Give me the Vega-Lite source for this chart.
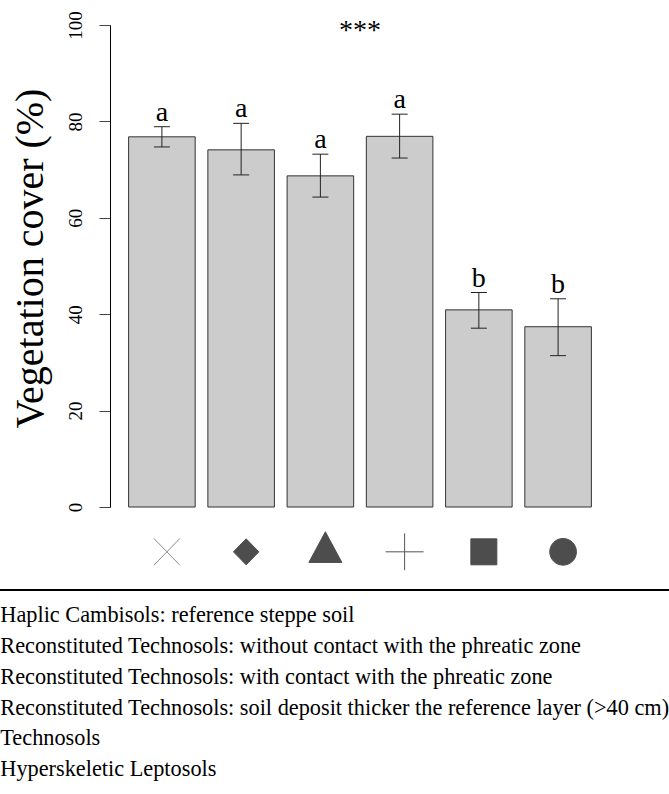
{
  "$schema": "https://vega.github.io/schema/vega-lite/v6.json",
  "autosize": {"type": "none"},
  "padding": {"left": 110, "top": 25, "right": 59, "bottom": 287},
  "width": 500,
  "height": 482,
  "background": "white",
  "config": {"view": {"stroke": null}, "font": "Liberation Serif", "legend": {"strokeWidth": 2}},
  "data": {
    "values": [
      {"soil": "Haplic Cambisols: reference steppe soil", "cover": 76.8, "lo": 74.7, "hi": 78.9, "letter": "a"},
      {"soil": "Reconstituted Technosols: without contact with the phreatic zone", "cover": 74.1, "lo": 68.9, "hi": 79.6, "letter": "a"},
      {"soil": "Reconstituted Technosols: with contact with the phreatic zone", "cover": 68.7, "lo": 64.3, "hi": 73.2, "letter": "a"},
      {"soil": "Reconstituted Technosols: soil deposit thicker the reference layer (>40 cm)", "cover": 76.9, "lo": 72.4, "hi": 81.5, "letter": "a"},
      {"soil": "Technosols", "cover": 40.9, "lo": 37.1, "hi": 44.5, "letter": "b"},
      {"soil": "Hyperskeletic Leptosols", "cover": 37.4, "lo": 31.4, "hi": 43.2, "letter": "b"}
    ]
  },
  "layer": [
    {
      "mark": {"type": "bar", "fill": "#cccccc", "stroke": "#333333", "strokeWidth": 1},
      "encoding": {
        "x": {"field": "soil", "type": "nominal", "sort": null, "axis": null, "scale": {"paddingInner": 0.16, "paddingOuter": 0.235}},
        "y": {
          "field": "cover", "type": "quantitative", "title": "Vegetation cover (%)",
          "scale": {"domain": [0, 100], "nice": false, "zero": true},
          "axis": {
            "values": [0, 20, 40, 60, 80, 100], "grid": false,
            "labelAngle": 270, "labelAlign": "center", "labelBaseline": "bottom",
            "labelFont": "Liberation Serif", "labelFontSize": 19, "labelColor": "black",
            "labelPadding": 14, "labelFlush": false, "labelOverlap": false,
            "tickSize": 11, "tickColor": "#444444", "tickWidth": 1,
            "domainColor": "black", "domainWidth": 1,
            "title": "Vegetation cover (%)", "titleFont": "Liberation Serif", "titleFontSize": 40,
            "titleFontWeight": "normal", "titleColor": "black", "titlePadding": 21,
            "titleX": -60, "titleY": 233
          }
        }
      }
    },
    {
      "mark": {"type": "rule", "color": "#222222", "strokeWidth": 1},
      "encoding": {
        "x": {"field": "soil", "type": "nominal", "sort": null},
        "y": {"field": "lo", "type": "quantitative", "title": "Vegetation cover (%)"},
        "y2": {"field": "hi"}
      }
    },
    {
      "mark": {"type": "tick", "color": "#222222", "size": 16, "thickness": 1, "opacity": 1},
      "encoding": {
        "x": {"field": "soil", "type": "nominal", "sort": null},
        "y": {"field": "lo", "type": "quantitative", "title": "Vegetation cover (%)"}
      }
    },
    {
      "mark": {"type": "tick", "color": "#222222", "size": 16, "thickness": 1, "opacity": 1},
      "encoding": {
        "x": {"field": "soil", "type": "nominal", "sort": null},
        "y": {"field": "hi", "type": "quantitative", "title": "Vegetation cover (%)"}
      }
    },
    {
      "mark": {"type": "text", "font": "Liberation Serif", "fontSize": 28, "dy": -6, "baseline": "alphabetic", "fill": "black"},
      "encoding": {
        "x": {"field": "soil", "type": "nominal", "sort": null},
        "y": {"field": "hi", "type": "quantitative", "title": "Vegetation cover (%)"},
        "text": {"field": "letter"}
      }
    },
    {
      "mark": {"type": "point", "size": 1600, "xOffset": 5, "strokeWidth": 1, "opacity": 1, "fillOpacity": 1, "strokeOpacity": 1},
      "encoding": {
        "x": {"field": "soil", "type": "nominal", "sort": null},
        "y": {"datum": -9.3},
        "shape": {
          "field": "soil", "type": "nominal", "sort": null,
          "scale": {"range": [
            "M-0.65,-0.67L0.65,0.67M-0.65,0.67L0.65,-0.67",
            "M0,-0.65L0.635,0L0,0.65L-0.635,0Z",
            "M0,-1L0.825,0.53L-0.825,0.53Z",
            "M-0.95,0L0.95,0M0,-0.92L0,0.92",
            "M-0.65,-0.65L0.65,-0.65L0.65,0.65L-0.65,0.65Z",
            "M-0.667,0A0.667,0.667 0 1,0 0.667,0A0.667,0.667 0 1,0 -0.667,0Z"
          ]},
          "legend": {
            "orient": "none", "legendX": -151, "legendY": 565, "direction": "vertical", "title": null,
            "labelFont": "Liberation Serif", "labelFontSize": 22.3, "labelColor": "black", "labelLimit": 2000,
            "symbolOpacity": 0, "symbolSize": 100, "labelOffset": 5, "padding": 14, "rowPadding": 7.8,
            "strokeColor": "black"
          }
        },
        "fill": {
          "field": "soil", "type": "nominal", "sort": null, "legend": null,
          "scale": {"range": ["transparent", "#4d4d4d", "#4d4d4d", "transparent", "#4d4d4d", "#4d4d4d"]}
        },
        "stroke": {
          "field": "soil", "type": "nominal", "sort": null, "legend": null,
          "scale": {"range": ["#8a8a8a", "#4d4d4d", "#4d4d4d", "#555555", "#4d4d4d", "#4d4d4d"]}
        }
      }
    },
    {
      "data": {"values": [{"sig": "***"}]},
      "mark": {"type": "text", "font": "Liberation Serif", "fontSize": 28, "baseline": "alphabetic", "fill": "black"},
      "encoding": {
        "y": {"datum": 97},
        "text": {"field": "sig"}
      }
    }
  ]
}
